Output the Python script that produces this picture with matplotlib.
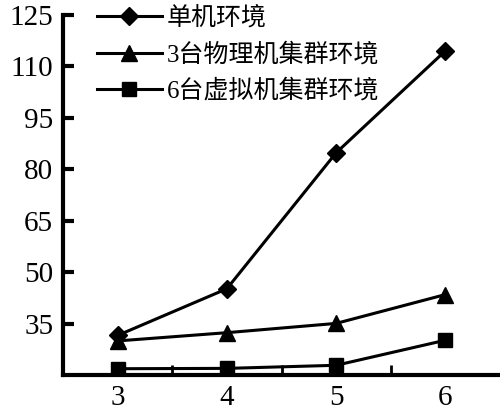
import matplotlib
matplotlib.use("Agg")
import matplotlib.pyplot as plt
from matplotlib.ticker import FixedLocator

plt.rcParams['font.family'] = ['Liberation Serif', 'Noto Sans CJK SC']

x = [3, 4, 5, 6]
single = [31.6, 45.2, 84.8, 114.5]
phys3 = [30.0, 32.4, 35.1, 43.5]
virt6 = [21.9, 22.0, 22.9, 30.2]
labels = ['单机环境', '3台物理机集群环境', '6台虚拟机集群环境']
yticks = [35, 50, 65, 80, 95, 110, 125]

fig = plt.figure(figsize=(5, 4.11), dpi=100)
ax = fig.add_axes([0.126, 0.087, 0.874, 0.877])

ax.plot(x, single, color='black', lw=2.2, marker='D', ms=9, label=labels[0])
ax.plot(x, phys3, color='black', lw=2.2, marker='^', ms=12, label=labels[1])
ax.plot(x, virt6, color='black', lw=2.2, marker='s', ms=10, label=labels[2])

ax.set_xlim(2.5, 6.5)
ax.set_ylim(20, 125)
ax.set_yticks(yticks)
ax.set_xticks(x)
ax.xaxis.set_minor_locator(FixedLocator([3.5, 4.5, 5.5]))

for s in ['top', 'right']:
    ax.spines[s].set_visible(False)
for s in ['left', 'bottom']:
    ax.spines[s].set_linewidth(3)

ax.tick_params(axis='y', direction='in', length=8, width=3, labelsize=21, pad=7)
ax.tick_params(axis='x', which='major', length=0, labelsize=21, pad=7)
ax.tick_params(axis='x', which='minor', direction='in', length=7, width=2)

ax.legend(loc='upper left', bbox_to_anchor=(0.054, 1.05), frameon=False,
          fontsize=18, handlelength=2.6, handletextpad=0.2, labelspacing=0.5,
          borderaxespad=0)

fig.savefig('out.png', dpi=100)
